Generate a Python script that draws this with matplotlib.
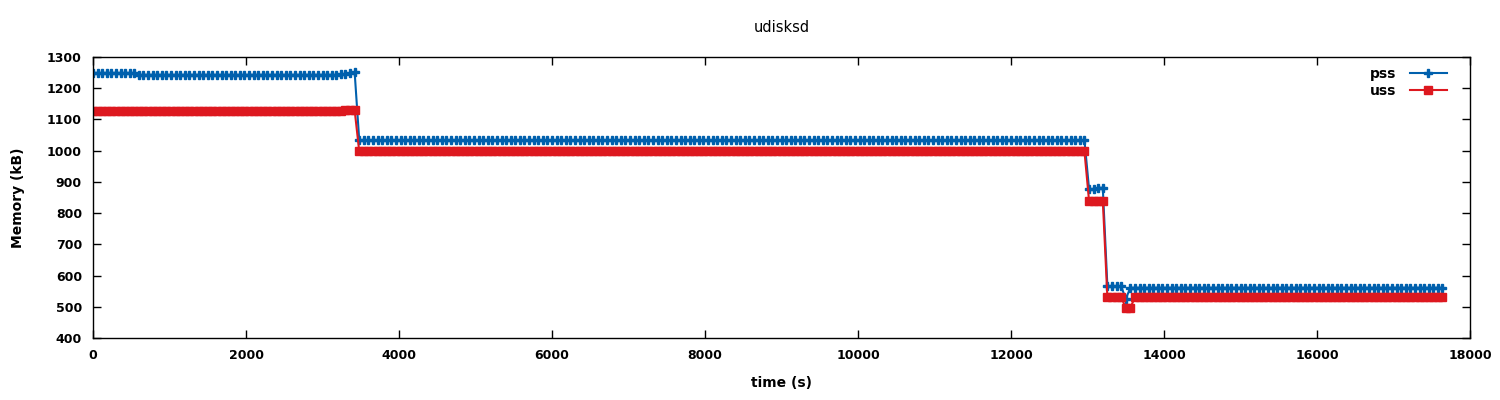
# udisksd memory usage over time (pss / uss), gnuplot-like look
import numpy as np
import matplotlib
matplotlib.use("Agg")
import matplotlib.pyplot as plt

# -----------------------------
# Data
# -----------------------------
sample_step = 60  # seconds between samples
t_end = 17650

# level changes: value holds from start time until next start
pss_starts = [0, 600, 3240, 3300, 3360, 3420, 3480, 13020, 13080, 13140, 13260, 13500, 13560]
pss_levels = [1249, 1243, 1245, 1246, 1248, 1252, 1034, 878, 876, 881, 566, 525, 561]

uss_starts = [0, 3300, 3480, 13020, 13260, 13500, 13620]
uss_levels = [1127, 1130, 998, 840, 530, 497, 530]

time_s = np.arange(0, t_end, sample_step)
pss = np.array(pss_levels)[np.searchsorted(pss_starts, time_s, side="right") - 1]
uss = np.array(uss_levels)[np.searchsorted(uss_starts, time_s, side="right") - 1]

x_ticks = list(range(0, 18001, 2000))
y_ticks = list(range(400, 1301, 100))

# -----------------------------
# Plot
# -----------------------------
plt.rcParams["font.family"] = ["DejaVu Sans"]

fig = plt.figure(figsize=(15, 4), dpi=100)
ax = fig.add_axes([0.062, 0.155, 0.918, 0.7025])

ax.plot(time_s, pss, color="#0060ad", lw=1.5, marker="P", ms=5.5,
        mec="#0060ad", label="pss")
ax.plot(time_s, uss, color="#dd181f", lw=1.5, marker="s", ms=6,
        mec="#dd181f", label="uss")

ax.set_xlim(0, 18000)
ax.set_ylim(400, 1300)
ax.set_xticks(x_ticks)
ax.set_yticks(y_ticks)
ax.tick_params(direction="in", length=6, width=1, top=True, right=True,
               labelsize=9, pad=8)
for lab in ax.get_xticklabels() + ax.get_yticklabels():
    lab.set_fontweight("bold")
for sp in ax.spines.values():
    sp.set_linewidth(1)

ax.set_xlabel("time (s)", fontsize=10, fontweight="bold", labelpad=10)
ax.set_ylabel("Memory (kB)", fontsize=10, fontweight="bold", labelpad=16)
ax.set_title("udisksd", fontsize=10.5, pad=18)

leg = ax.legend(loc="upper right", bbox_to_anchor=(0.99, 1.0), frameon=False,
                markerfirst=False, fontsize=10, handlelength=2.6,
                borderaxespad=0.3, labelspacing=0.2, handletextpad=1.0)
for txt in leg.get_texts():
    txt.set_fontweight("bold")

fig.savefig("out.png", dpi=100)
